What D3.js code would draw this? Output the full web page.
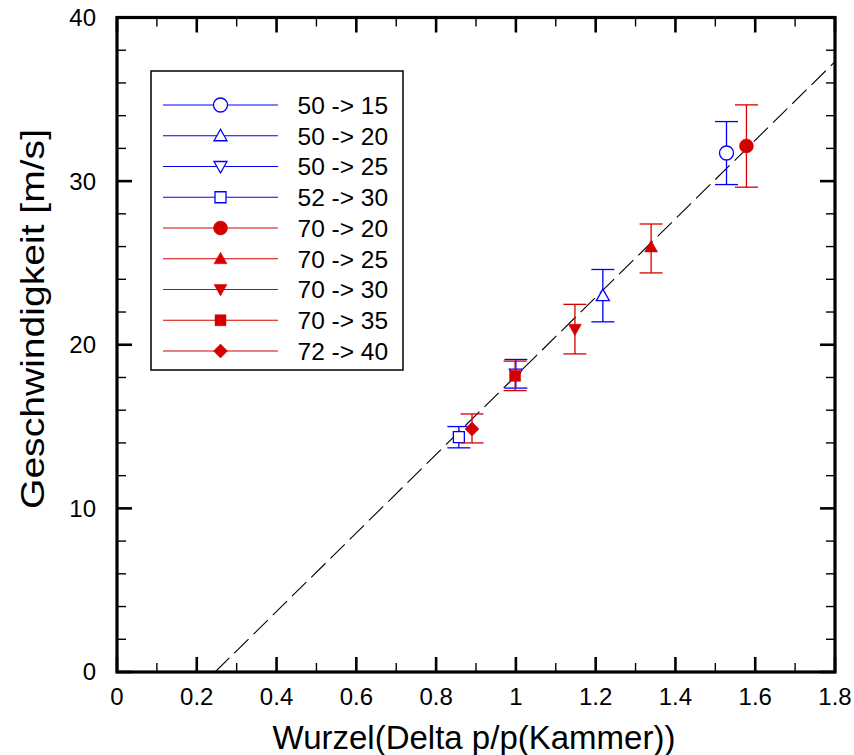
<!DOCTYPE html>
<html>
<head>
<meta charset="utf-8">
<script src="https://cdn.jsdelivr.net/npm/d3@7"></script>
<style>
  html, body { margin: 0; padding: 0; background: #fff; }
  svg { display: block; }
  text { font-family: "Liberation Sans", Arial, sans-serif; fill: #000; }
</style>
</head>
<body>
<svg id="chart" width="854" height="755"></svg>
<script>
// Measurement series: pressure steps (start -> end)
const seriesNames = ["50 -> 15", "50 -> 20", "50 -> 25", "52 -> 30",
                     "70 -> 20", "70 -> 25", "70 -> 30", "70 -> 35", "72 -> 40"];
const xValues = [1.528, 1.218, 1.000, 0.857, 1.578, 1.339, 1.148, 0.998, 0.890];
const yValues = [31.72, 23.0, 18.2, 14.36, 32.15, 25.98, 20.95, 18.1, 14.85];
const yLower  = [29.79, 21.4, 17.35, 13.7, 29.63, 24.39, 19.44, 17.2, 14.0];
const yUpper  = [33.64, 24.6, 19.1, 15.0, 34.66, 27.38, 22.47, 19.0, 15.77];
const seriesColors = ["#0000ff", "#0000ff", "#0000ff", "#0000ff",
                      "#d40000", "#d40000", "#d40000", "#d40000", "#d40000"];
const seriesSymbols = ["circle", "triangle", "triangleDown", "square",
                       "circle", "triangle", "triangleDown", "square", "diamond"];
const seriesFilled = [false, false, false, false, true, true, true, true, true];

// Linear fit: v = slope * x + intercept
const fitSlope = 24.0;
const fitIntercept = -5.9;

const xTicks = [0, 0.2, 0.4, 0.6, 0.8, 1, 1.2, 1.4, 1.6, 1.8];
const xTickLabels = ["0", "0.2", "0.4", "0.6", "0.8", "1", "1.2", "1.4", "1.6", "1.8"];
const yTicks = [0, 10, 20, 30, 40];
const yTickLabels = ["0", "10", "20", "30", "40"];

const xTitle = "Wurzel(Delta p/p(Kammer))";
const yTitle = "Geschwindigkeit [m/s]";

const svg = d3.select("#chart");
const L = 117, R = 835, T = 17.5, B = 672;

const x = d3.scaleLinear().domain([0, 1.8]).range([L, R]);
const y = d3.scaleLinear().domain([0, 40]).range([B, T]);

// Symbol paths centred on the origin
function symbolPath(kind) {
  switch (kind) {
    case "triangle": return "M0,-6.5L6.5,5L-6.5,5Z";
    case "triangleDown": return "M0,6.5L6.5,-5L-6.5,-5Z";
    case "square": return "M-5.5,-5.5H5.5V5.5H-5.5Z";
    case "diamond": return "M0,-7L7,0L0,7L-7,0Z";
  }
}
function drawSymbol(g, kind, color, filled) {
  const el = kind === "circle"
    ? g.append("circle").attr("r", 7)
    : g.append("path").attr("d", symbolPath(kind));
  el.attr("fill", filled ? color : "#fff")
    .attr("stroke", color).attr("stroke-width", filled ? 0.5 : 1.3);
}

// Fit line (dashed), under the markers
const xStart = -fitIntercept / fitSlope;
svg.append("line")
  .attr("x1", x(xStart)).attr("y1", y(0))
  .attr("x2", x(1.8)).attr("y2", y(fitSlope * 1.8 + fitIntercept))
  .attr("stroke", "#000").attr("stroke-width", 1.1)
  .attr("stroke-dasharray", "20,7");

// Error bars and markers
const capHalf = 11.5;
seriesNames.forEach((name, i) => {
  const g = svg.append("g");
  const cx = x(xValues[i]);
  g.append("line").attr("x1", cx).attr("x2", cx)
    .attr("y1", y(yLower[i])).attr("y2", y(yUpper[i]))
    .attr("stroke", seriesColors[i]).attr("stroke-width", 1.3);
  [yLower[i], yUpper[i]].forEach(v => {
    g.append("line").attr("x1", cx - capHalf).attr("x2", cx + capHalf)
      .attr("y1", y(v)).attr("y2", y(v))
      .attr("stroke", seriesColors[i]).attr("stroke-width", 1.3);
  });
  const m = g.append("g").attr("transform", `translate(${cx},${y(yValues[i])})`);
  drawSymbol(m, seriesSymbols[i], seriesColors[i], seriesFilled[i]);
});

// Ticks on all four sides, pointing inward
const xMinor = d3.range(0, 19).map(d => d / 10);
const yMinor = d3.range(0, 21).map(d => d * 2);
const majorLen = 15, minorLen = 9;
const tickG = svg.append("g").attr("stroke", "#000");
xMinor.forEach(v => {
  const major = Math.abs(v * 5 - Math.round(v * 5)) < 1e-6;
  const len = major ? majorLen : minorLen;
  const w = major ? 2.6 : 1.4;
  tickG.append("line").attr("x1", x(v)).attr("x2", x(v)).attr("y1", B).attr("y2", B - len).attr("stroke-width", w);
  tickG.append("line").attr("x1", x(v)).attr("x2", x(v)).attr("y1", T).attr("y2", T + len).attr("stroke-width", w);
});
yMinor.forEach(v => {
  const major = v % 10 === 0;
  const len = major ? majorLen : minorLen;
  const w = major ? 2.6 : 1.4;
  tickG.append("line").attr("y1", y(v)).attr("y2", y(v)).attr("x1", L).attr("x2", L + len).attr("stroke-width", w);
  tickG.append("line").attr("y1", y(v)).attr("y2", y(v)).attr("x1", R).attr("x2", R - len).attr("stroke-width", w);
});

// Frame
svg.append("rect").attr("x", L).attr("y", T).attr("width", R - L).attr("height", B - T)
  .attr("fill", "none").attr("stroke", "#000").attr("stroke-width", 3.2);

// Tick labels
xTicks.forEach((v, i) => {
  svg.append("text").attr("x", x(v)).attr("y", 705)
    .attr("text-anchor", "middle").attr("font-size", 24).text(xTickLabels[i]);
});
yTicks.forEach((v, i) => {
  svg.append("text").attr("x", 96).attr("y", y(v)).attr("dy", "0.35em")
    .attr("text-anchor", "end").attr("font-size", 24).text(yTickLabels[i]);
});

// Axis titles
svg.append("text").attr("x", 474).attr("y", 749)
  .attr("text-anchor", "middle").attr("font-size", 33).text(xTitle);
svg.append("text").attr("transform", "translate(44,319) rotate(-90)")
  .attr("text-anchor", "middle").attr("font-size", 33)
  .attr("textLength", 380).attr("lengthAdjust", "spacingAndGlyphs")
  .text(yTitle);

// Legend
const lg = svg.append("g");
lg.append("rect").attr("x", 151).attr("y", 71).attr("width", 252).attr("height", 299)
  .attr("fill", "#fff").attr("stroke", "#000").attr("stroke-width", 1.5);
seriesNames.forEach((name, i) => {
  const ry = 105 + i * 30.75;
  lg.append("line").attr("x1", 163).attr("x2", 278).attr("y1", ry).attr("y2", ry)
    .attr("stroke", seriesColors[i]).attr("stroke-width", 1.2);
  const m = lg.append("g").attr("transform", `translate(220.5,${ry})`);
  drawSymbol(m, seriesSymbols[i], seriesColors[i], seriesFilled[i]);
  lg.append("text").attr("x", 297.5).attr("y", ry).attr("dy", "0.36em")
    .attr("font-size", 24.5).text(name);
});
</script>
</body>
</html>
